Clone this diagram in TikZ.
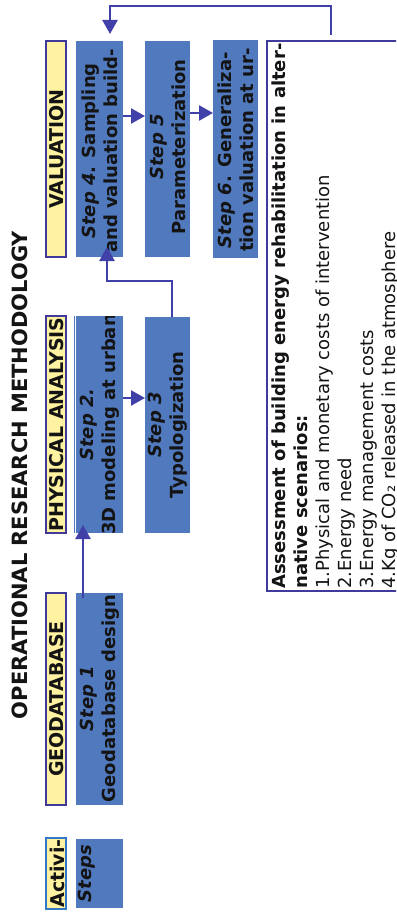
\documentclass[tikz,border=0pt]{standalone}
\usepackage{fontspec}
\setmainfont{DejaVu Sans}
\usetikzlibrary{arrows.meta}
\definecolor{hdrfill}{HTML}{FFF2A0}
\definecolor{hdrline}{HTML}{3F3A9C}
\definecolor{actline}{HTML}{3478C8}
\definecolor{stepfill}{HTML}{5079BE}
\definecolor{flow}{HTML}{4040A8}
\definecolor{ink}{HTML}{141414}
\begin{document}
\begin{tikzpicture}[x=1pt,y=-1pt,
  hdr/.style={draw=hdrline, fill=hdrfill, line width=1.6pt, inner sep=0pt, outer sep=0pt, minimum width=20.5pt},
  hdrtxt/.style={rotate=90, font=\fontsize{19}{23}\selectfont\bfseries, text=ink, inner sep=0pt},
  stepbox/.style={fill=stepfill, inner sep=0pt, outer sep=0pt},
  steptxt/.style={rotate=90, align=center, font=\fontsize{18}{22}\selectfont\bfseries, text=ink, inner sep=0pt},
  flowarrow/.style={draw=flow, line width=2.5pt, -{Triangle[length=14pt,width=15pt]}},
]
\useasboundingbox (0,0) rectangle (396,912);
\clip (0,0) rectangle (396,912);

% title
\node[rotate=90, font=\fontsize{21}{25}\selectfont\bfseries, text=ink, inner sep=0pt] (title) at (19.5,475) {OPERATIONAL RESEARCH METHODOLOGY};

% activity headers
\node[hdr, minimum height=216.5pt] (hval) at (56,149) {};
\node[hdrtxt] (hvalt) at (57,149) {VALUATION};
\node[hdr, minimum height=217.5pt] (hphy) at (56,424.5) {};
\begin{scope}
  \clip (hphy.south west) rectangle (hphy.north east);
  \node[hdrtxt] (hphyt) at (57,424.5) {PHYSICAL ANALYSIS};
\end{scope}
\node[hdr, minimum height=212.5pt] (hgeo) at (56,699) {};
\node[hdrtxt] (hgeot) at (57,699) {GEODATABASE};
\node[hdr, draw=actline, minimum height=71.5pt] (hact) at (56,873.5) {};
\begin{scope}
  \clip (hact.south west) rectangle (hact.north east);
  \node[hdrtxt] (hactt) at (57,873.5) {Activi-};
\end{scope}

% step boxes
\node[stepbox, minimum width=47pt, minimum height=216pt] (s4) at (99.5,149) {};
\begin{scope}
  \clip (s4.south west) rectangle (s4.north east);
  \node[steptxt] (s4t) at (99.5,151) {\textit{Step 4}. Sampling\\and valuation build-};
\end{scope}
\node[stepbox, minimum width=45pt, minimum height=216pt] (s5) at (167.5,149) {};
\begin{scope}
  \clip (s5.south west) rectangle (s5.north east);
  \node[steptxt] (s5t) at (168,147) {\textit{Step 5}\\Parameterization};
\end{scope}
\node[stepbox, minimum width=45pt, minimum height=218pt] (s6) at (235.5,149) {};
\begin{scope}
  \clip (s6.south west) rectangle (s6.north east);
  \node[steptxt] (s6t) at (236,150) {\textit{Step 6}. Generaliza-\\tion valuation at ur-};
\end{scope}

\node[stepbox, minimum width=47pt, minimum height=217pt] (s2) at (99.5,424.5) {};
\draw[stepfill, line width=1pt] (74,316) -- (74,533);
\begin{scope}
  \clip (s2.south west) rectangle (s2.north east);
  \node[steptxt] (s2t) at (99.5,424.5) {\textit{Step 2.}\\3D modeling at urban};
\end{scope}
\node[stepbox, minimum width=45pt, minimum height=216pt] (s3) at (167.5,425) {};
\begin{scope}
  \clip (s3.south west) rectangle (s3.north east);
  \node[steptxt] (s3t) at (168,425) {\textit{Step 3}\\Typologization};
\end{scope}

\node[stepbox, minimum width=47pt, minimum height=212pt] (s1) at (99.5,699) {};
\begin{scope}
  \clip (s1.south west) rectangle (s1.north east);
  \node[steptxt] (s1t) at (99.5,698.5) {\textit{Step 1}\\Geodatabase design};
\end{scope}
\node[stepbox, minimum width=47pt, minimum height=69pt] (sst) at (99.5,873.5) {};
\node[steptxt] (sstt) at (87,873.5) {\textit{Steps}};

% assessment box
\node[draw=hdrline, line width=2pt, fill=white, inner sep=0pt, minimum width=163pt, minimum height=550pt] (as) at (348.5,316) {};
\node[rotate=90, anchor=north west, align=left, inner sep=0pt, font=\fontsize{18}{22}\selectfont, text=ink] (ast) at (272,589)
  {\textbf{Assessment of building energy rehabilitation in alter-}\\
   \textbf{native scenarios:}\\
   1.Physical and monetary costs of intervention\\
   2.Energy need\\
   3.Energy management costs\\
   4.Kg of CO₂ released in the atmosphere};

% flow
\draw[flowarrow, shorten <=-5pt, shorten >=-8pt] (s1.north -| 83,0) -- (s2.south -| 83,0);
\draw[flowarrow] (s2.east |- 0,398) -- (s3.west |- 0,398);
\draw[flowarrow, shorten >=-10pt] (s3.north -| 172,0) |- (107,281) -- (s4.south -| 107,0);
\draw[flowarrow] (s4.east |- 0,116) -- (s5.west |- 0,116);
\draw[flowarrow] (s5.east |- 0,113) -- (s6.west |- 0,113);
\draw[flowarrow, shorten <=5pt, shorten >=7pt] (as.north -| 331,0) |- (110,6) -- (s4.north -| 110,0);
\end{tikzpicture}
\end{document}
